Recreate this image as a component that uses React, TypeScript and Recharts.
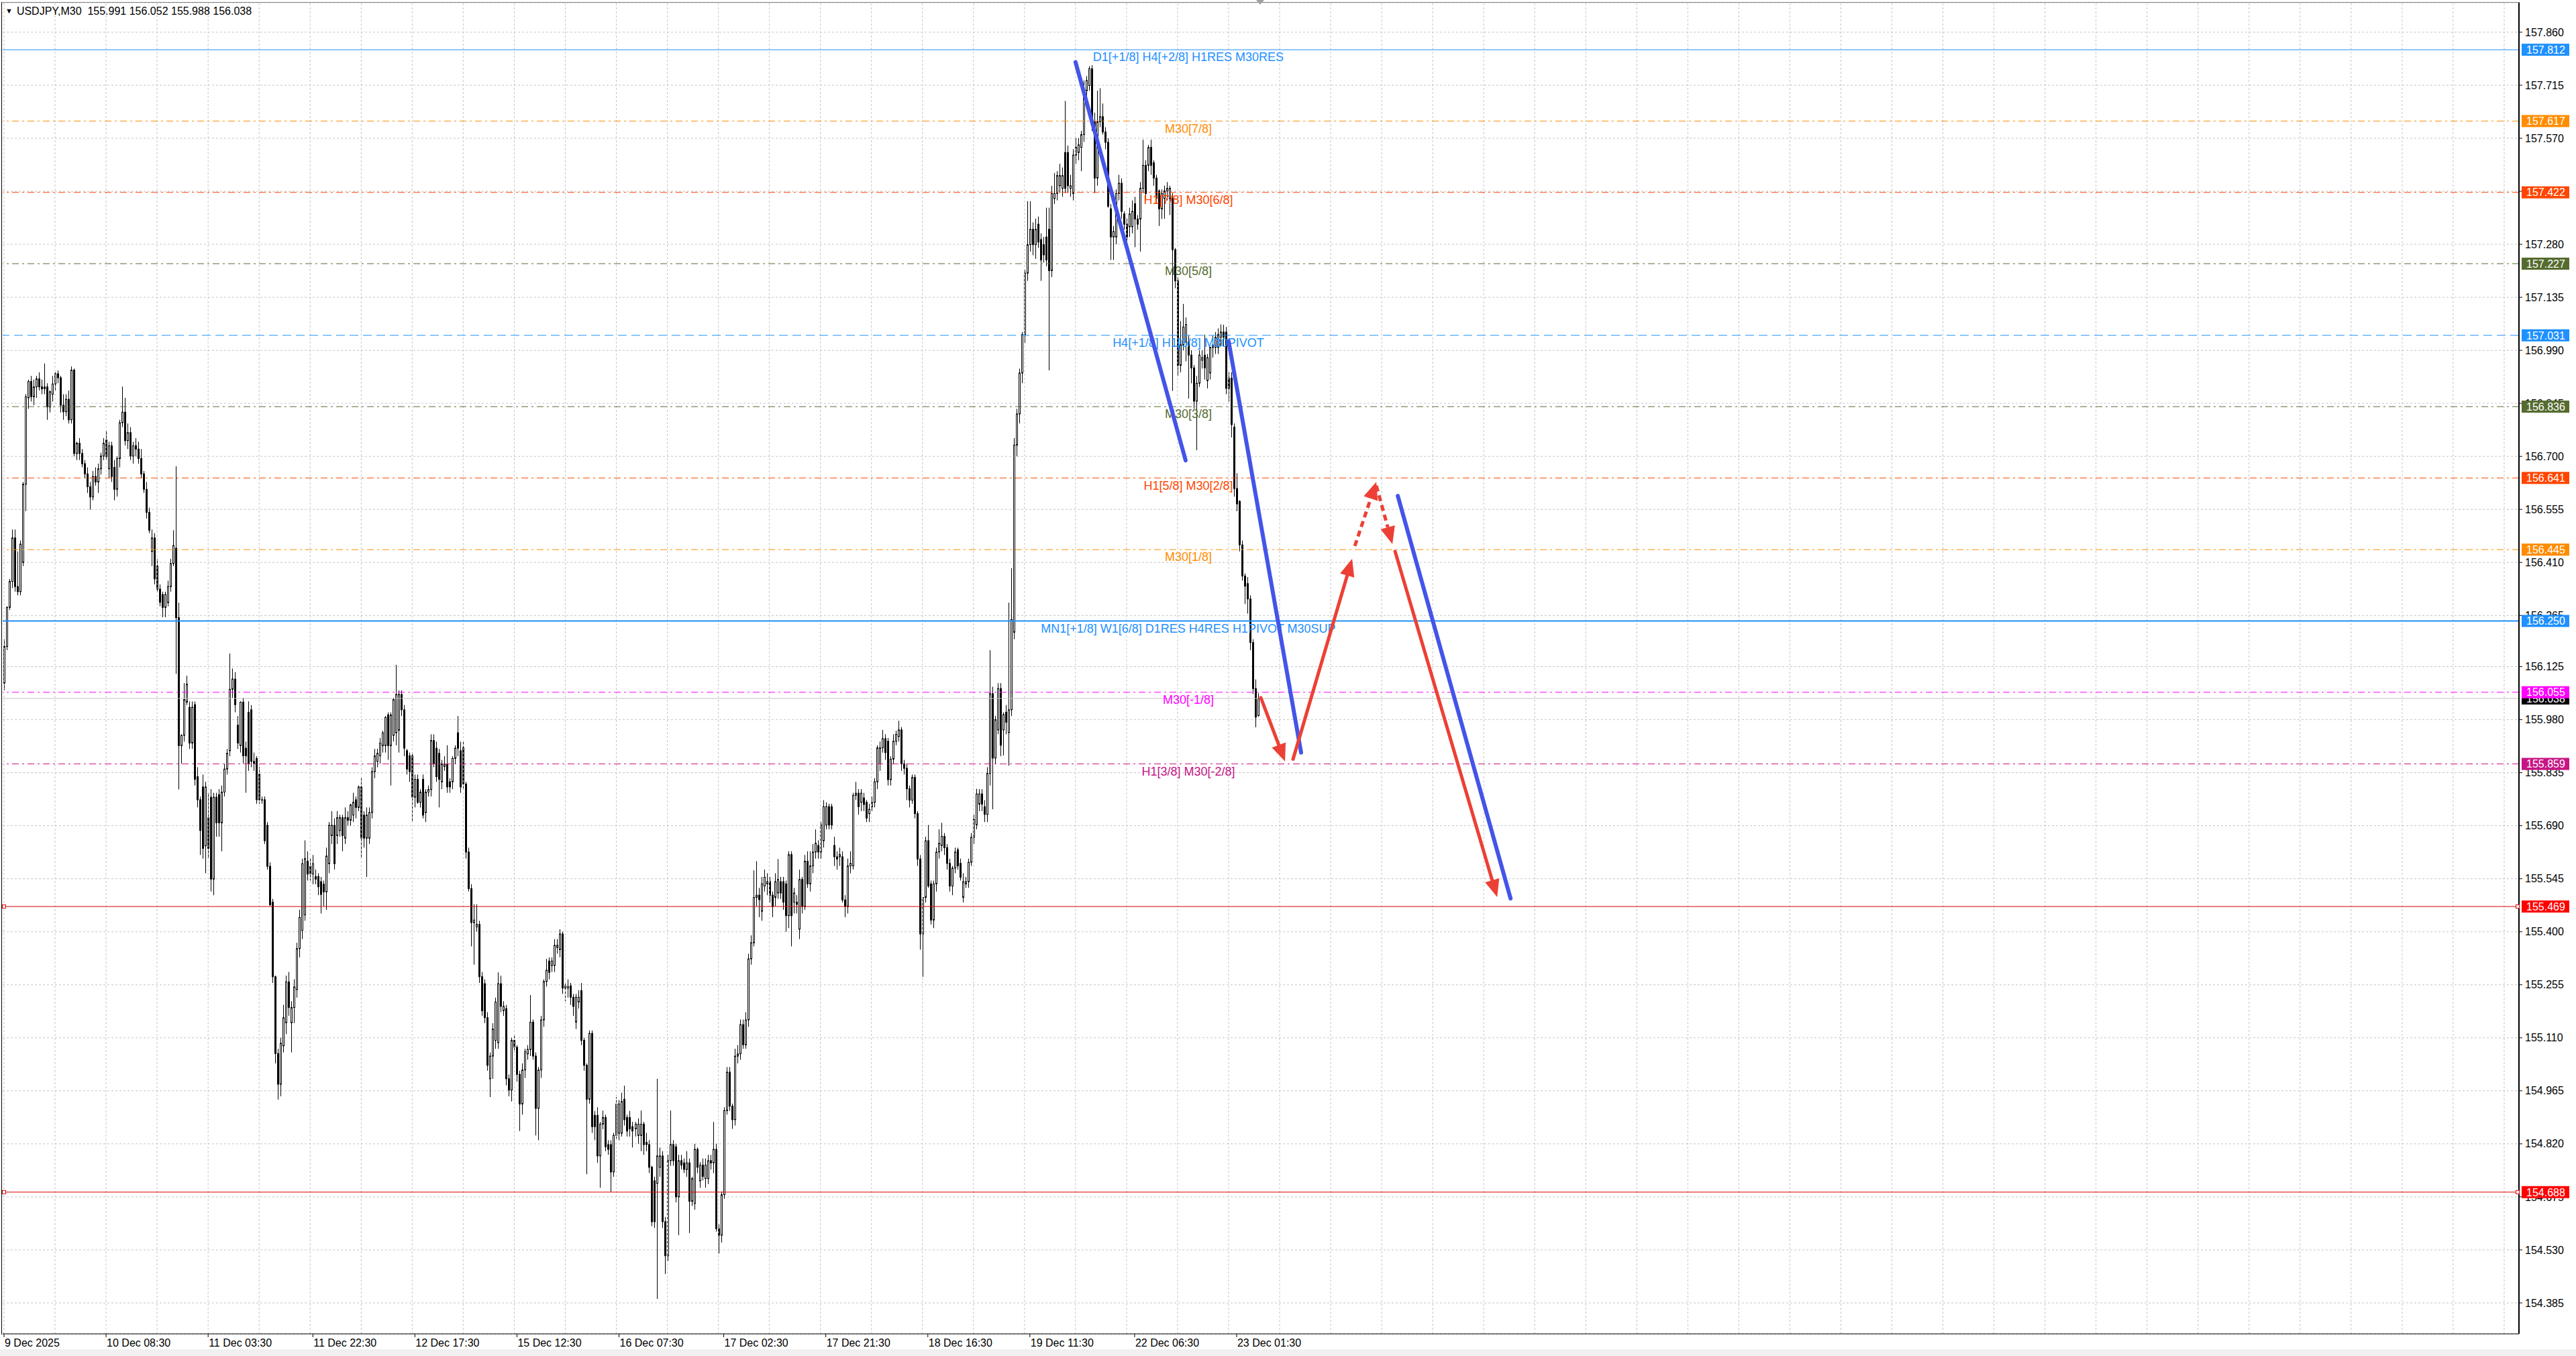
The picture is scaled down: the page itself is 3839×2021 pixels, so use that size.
import React from 'react';
import { ComposedChart, Bar, XAxis, YAxis, CartesianGrid, ReferenceLine, ReferenceDot } from 'recharts';

const W = 3839;
const H = 2021;
const FONT = '"Liberation Sans", Arial, sans-serif';

// ---------- candle data (USDJPY M30) ----------
const OPEN = [
  156.08,156.18,156.287,156.358,156.477,156.344,156.33,156.41,156.624,156.86,
  156.905,156.863,156.89,156.912,156.89,156.885,156.89,156.835,156.87,156.898,
  156.926,156.915,156.84,156.822,156.856,156.8,156.936,156.708,156.736,156.708,
  156.68,156.652,156.617,156.589,156.645,156.63,156.666,156.701,156.745,156.666,
  156.729,156.67,156.61,156.694,156.792,156.821,156.743,156.765,156.701,156.729,
  156.72,156.694,156.652,156.61,156.547,156.44,156.477,156.4,156.337,156.322,
  156.287,156.3,156.344,156.407,156.449,156.259,155.909,155.937,156.028,156.014,
  155.916,156.021,155.824,155.761,155.796,155.635,155.712,155.768,155.544,155.768,
  155.775,155.698,155.782,155.845,155.895,156.063,156.091,155.965,155.909,156.028,
  155.902,156.0,156.007,155.866,155.874,155.831,155.761,155.761,155.691,155.579,
  155.481,155.277,155.067,154.983,155.088,155.151,155.263,155.151,155.193,155.242,
  155.354,155.404,155.446,155.593,155.579,155.558,155.551,155.551,155.537,155.53,
  155.509,155.586,155.663,155.691,155.663,155.677,155.712,155.656,155.712,155.705,
  155.719,155.761,155.74,155.796,155.719,155.656,155.656,155.726,155.838,155.866,
  155.881,155.909,155.909,155.993,155.909,155.937,155.944,155.951,156.049,156.007,
  155.895,155.881,155.881,155.768,155.817,155.754,155.817,155.726,155.782,155.789,
  155.923,155.902,155.888,155.81,155.852,155.859,155.81,155.81,155.874,155.944,
  155.895,155.903,155.804,155.618,155.518,155.425,155.413,155.42,155.277,155.258,
  155.165,154.998,155.06,155.103,155.097,155.258,155.184,155.19,154.998,154.967,
  155.103,155.084,155.01,154.929,155.022,155.066,155.078,155.153,155.06,154.917,
  155.022,155.159,155.264,155.32,155.308,155.308,155.357,155.351,155.394,155.252,
  155.246,155.252,155.221,155.153,155.208,155.239,155.103,155.035,154.942,155.122,
  154.898,154.898,154.787,154.874,154.892,154.818,154.818,154.743,154.843,154.849,
  154.849,154.942,154.892,154.892,154.867,154.861,154.843,154.843,154.874,154.824,
  154.818,154.756,154.719,154.712,154.756,154.787,154.607,154.514,154.774,154.818,
  154.812,154.675,154.774,154.768,154.75,154.768,154.663,154.657,154.805,154.719,
  154.762,154.725,154.725,154.774,154.768,154.805,154.588,154.57,154.681,154.911,
  155.016,154.923,154.886,155.06,155.066,155.146,155.091,155.159,155.326,155.37,
  155.494,155.5,155.456,155.525,155.531,155.537,155.5,155.494,155.506,155.537,
  155.537,155.531,155.444,155.611,155.481,155.481,155.407,155.543,155.469,155.593,
  155.531,155.58,155.618,155.636,155.618,155.649,155.692,155.742,155.742,155.636,
  155.605,155.605,155.605,155.487,155.469,155.58,155.58,155.773,155.779,155.754,
  155.766,155.754,155.723,155.742,155.754,155.81,155.859,155.903,155.928,155.921,
  155.816,155.872,155.921,155.934,155.952,155.859,155.847,155.791,155.76,155.822,
  155.723,155.599,155.394,155.494,155.649,155.531,155.432,155.531,155.618,155.636,
  155.661,155.63,155.587,155.525,155.574,155.624,155.587,155.494,155.531,155.537,
  155.59,155.658,155.693,155.749,155.777,155.742,155.721,155.833,156.051,155.875,
  155.952,156.065,155.952,156.0,155.945,156.007,156.219,156.731,156.816,156.928,
  157.033,157.201,157.279,157.321,157.279,157.335,157.293,157.279,157.3,157.321,
  157.208,157.405,157.419,157.44,157.433,157.531,157.531,157.433,157.419,157.524,
  157.531,157.545,157.58,157.7,157.714,157.76,157.615,157.461,157.615,157.629,
  157.587,157.559,157.377,157.3,157.3,157.419,157.447,157.363,157.335,157.328,
  157.328,157.391,157.349,157.349,157.433,157.496,157.496,157.545,157.503,157.461,
  157.426,157.377,157.405,157.426,157.405,157.405,157.265,157.18,156.949,157.005,
  157.012,157.012,156.977,156.942,156.851,156.9,156.963,156.977,156.907,156.928,
  156.998,156.998,156.998,157.026,157.04,157.04,156.914,156.914,156.78,156.612,
  156.577,156.458,156.373,156.352,156.31,156.191,156.065,155.991
];
const HIGH = [
  156.2,156.29,156.365,156.5,156.5,156.44,156.47,156.63,156.87,156.91,
  156.92,156.91,156.92,156.93,156.91,156.954,156.9,156.88,156.92,156.93,
  156.935,156.92,156.87,156.87,156.88,156.946,156.94,156.74,156.75,156.72,
  156.69,156.67,156.63,156.66,156.67,156.68,156.71,156.75,156.77,156.74,
  156.74,156.69,156.7,156.8,156.891,156.86,156.79,156.78,156.74,156.75,
  156.74,156.72,156.66,156.63,156.56,156.5,156.49,156.42,156.35,156.33,
  156.33,156.36,156.42,156.498,156.673,156.3,155.94,156.08,156.1,156.03,
  156.03,156.03,155.85,155.77,155.83,155.81,155.78,155.79,155.78,155.78,
  155.79,155.8,155.86,155.9,156.161,156.12,156.11,155.99,156.03,156.04,
  155.92,156.03,156.02,155.89,155.88,155.85,155.77,155.77,155.7,155.59,
  155.49,155.28,155.08,155.11,155.2,155.28,155.29,155.21,155.27,155.37,
  155.46,155.6,155.65,155.62,155.6,155.61,155.57,155.56,155.55,155.54,
  155.63,155.7,155.73,155.71,155.73,155.72,155.72,155.74,155.73,155.75,
  155.78,155.77,155.8,155.82,155.73,155.74,155.74,155.85,155.9,155.9,
  155.93,155.95,155.99,156.0,156.0,156.04,156.13,156.06,156.06,156.02,
  155.9,155.89,155.89,155.83,155.83,155.79,155.83,155.79,155.8,155.94,
  155.94,155.92,155.9,155.87,155.88,155.91,155.82,155.88,155.91,155.99,
  155.92,155.92,155.81,155.63,155.53,155.475,155.475,155.43,155.29,155.27,
  155.18,155.07,155.15,155.22,155.289,155.28,155.21,155.2,155.01,155.11,
  155.12,155.09,155.02,155.04,155.08,155.09,155.227,155.16,155.07,155.03,
  155.17,155.27,155.326,155.33,155.33,155.38,155.38,155.407,155.4,155.26,
  155.27,155.26,155.23,155.23,155.24,155.26,155.11,155.04,155.13,155.13,
  154.91,154.92,154.88,154.911,154.9,154.83,154.83,154.85,154.948,154.94,
  154.96,154.979,154.9,154.91,154.88,154.88,154.89,154.911,154.88,154.85,
  154.83,154.76,154.73,154.998,154.81,154.8,154.62,154.79,154.911,154.83,
  154.82,154.79,154.79,154.78,154.8,154.78,154.73,154.82,154.81,154.77,
  154.78,154.78,154.79,154.79,154.88,154.82,154.6,154.69,154.92,155.03,
  155.03,154.93,155.08,155.09,155.16,155.16,155.18,155.34,155.39,155.568,
  155.593,155.52,155.55,155.57,155.56,155.55,155.51,155.56,155.599,155.55,
  155.55,155.54,155.62,155.62,155.52,155.5,155.57,155.55,155.61,155.62,
  155.62,155.64,155.68,155.65,155.7,155.76,155.754,155.75,155.75,155.66,
  155.62,155.63,155.62,155.5,155.6,155.62,155.78,155.81,155.79,155.79,
  155.78,155.76,155.75,155.77,155.82,155.91,155.92,155.952,155.94,155.93,
  155.88,155.94,155.95,155.977,155.96,155.87,155.86,155.8,155.83,155.83,
  155.73,155.61,155.47,155.66,155.692,155.54,155.54,155.63,155.68,155.698,
  155.67,155.64,155.6,155.58,155.63,155.63,155.6,155.56,155.55,155.6,
  155.67,155.72,155.791,155.79,155.79,155.76,155.85,156.17,156.07,155.99,
  156.08,156.08,156.0,156.02,156.3,156.394,156.75,156.83,156.94,157.04,
  157.21,157.398,157.398,157.34,157.35,157.356,157.31,157.3,157.38,157.38,
  157.44,157.475,157.48,157.5,157.49,157.672,157.55,157.47,157.54,157.57,
  157.57,157.59,157.728,157.74,157.767,157.77,157.64,157.7,157.707,157.665,
  157.6,157.57,157.39,157.33,157.43,157.47,157.46,157.37,157.35,157.38,
  157.4,157.41,157.36,157.45,157.566,157.51,157.552,157.566,157.51,157.47,
  157.43,157.43,157.44,157.45,157.44,157.42,157.27,157.19,157.07,157.117,
  157.08,157.03,156.99,156.95,156.92,156.99,156.99,157.033,156.98,157.0,
  157.03,157.04,157.05,157.061,157.06,157.054,156.93,156.93,156.79,156.654,
  156.58,156.47,156.38,156.37,156.32,156.2,156.09,156.052
];
const LOW = [
  156.06,156.17,156.28,156.34,156.33,156.32,156.32,156.4,156.55,156.83,
  156.85,156.84,156.86,156.88,156.87,156.87,156.8,156.82,156.85,156.88,
  156.9,156.82,156.8,156.81,156.79,156.79,156.7,156.69,156.69,156.67,
  156.64,156.6,156.554,156.58,156.62,156.6,156.65,156.69,156.69,156.64,
  156.63,156.58,156.59,156.67,156.78,156.73,156.72,156.69,156.68,156.7,
  156.68,156.64,156.6,156.53,156.49,156.4,156.35,156.33,156.29,156.26,
  156.26,156.29,156.33,156.4,156.105,155.789,155.86,155.92,156.02,155.9,
  155.9,155.8,155.74,155.61,155.6,155.56,155.6,155.51,155.5,155.66,
  155.66,155.62,155.77,155.83,155.88,156.04,156.0,155.9,155.89,155.86,
  155.78,155.84,155.85,155.84,155.75,155.75,155.75,155.64,155.57,155.47,
  155.26,155.04,154.941,154.95,155.07,155.12,155.17,155.07,155.15,155.22,
  155.33,155.38,155.43,155.54,155.54,155.53,155.53,155.5,155.45,155.47,
  155.46,155.56,155.64,155.57,155.64,155.66,155.62,155.64,155.69,155.69,
  155.7,155.71,155.73,155.6,155.63,155.55,155.64,155.71,155.82,155.85,
  155.86,155.89,155.89,155.87,155.8,155.92,155.91,155.89,155.99,155.88,
  155.83,155.81,155.7,155.74,155.75,155.74,155.71,155.7,155.77,155.77,
  155.85,155.81,155.74,155.79,155.84,155.78,155.78,155.79,155.86,155.88,
  155.78,155.79,155.6,155.51,155.36,155.31,155.4,155.26,155.17,155.15,
  155.02,154.948,154.998,155.08,155.08,155.18,155.17,154.98,154.95,154.936,
  155.07,154.99,154.855,154.9,155.0,155.05,155.06,155.05,154.843,154.83,
  155.0,155.14,155.25,155.27,155.29,155.29,155.34,155.33,155.23,155.21,
  155.22,155.2,155.17,155.134,155.19,155.09,155.02,154.737,154.93,154.85,
  154.83,154.768,154.7,154.86,154.8,154.79,154.688,154.73,154.83,154.83,
  154.84,154.87,154.84,154.84,154.81,154.84,154.82,154.8,154.79,154.8,
  154.74,154.595,154.59,154.396,154.73,154.59,154.464,154.5,154.76,154.76,
  154.66,154.57,154.75,154.74,154.73,154.576,154.65,154.64,154.74,154.7,
  154.72,154.7,154.71,154.75,154.74,154.58,154.52,154.55,154.67,154.9,
  154.91,154.861,154.87,155.04,155.05,155.08,155.08,155.14,155.31,155.36,
  155.47,155.44,155.43,155.51,155.5,155.48,155.44,155.47,155.49,155.49,
  155.46,155.4,155.41,155.36,155.45,155.45,155.38,155.45,155.46,155.52,
  155.51,155.56,155.6,155.6,155.6,155.63,155.68,155.68,155.68,155.58,
  155.57,155.58,155.48,155.44,155.45,155.56,155.57,155.76,155.72,155.73,
  155.73,155.7,155.7,155.73,155.74,155.79,155.84,155.89,155.87,155.8,
  155.8,155.86,155.91,155.92,155.84,155.83,155.76,155.74,155.75,155.71,
  155.58,155.351,155.277,155.48,155.52,155.42,155.41,155.51,155.6,155.62,
  155.61,155.57,155.51,155.5,155.56,155.57,155.54,155.48,155.52,155.52,
  155.58,155.64,155.68,155.73,155.73,155.7,155.7,155.8,155.735,155.86,
  155.94,155.88,155.882,155.94,155.854,155.99,156.2,156.7,156.79,156.9,
  157.01,157.18,157.26,157.25,157.24,157.27,157.18,157.23,157.22,156.935,
  157.19,157.39,157.4,157.42,157.41,157.42,157.42,157.41,157.4,157.5,
  157.51,157.48,157.56,157.68,157.7,157.59,157.42,157.44,157.6,157.58,
  157.54,157.38,157.237,157.237,157.28,157.4,157.35,157.32,157.29,157.3,
  157.31,157.272,157.32,157.26,157.42,157.4,157.48,157.47,157.44,157.39,
  157.33,157.349,157.35,157.4,157.36,156.879,157.16,156.92,156.93,156.99,
  156.96,156.858,156.9,156.83,156.717,156.89,156.94,156.91,156.886,156.91,
  156.97,156.98,156.98,157.0,157.0,156.87,156.85,156.752,156.59,156.55,
  156.44,156.36,156.296,156.27,156.17,156.05,155.959,155.988
];
const CLOSE = [
  156.18,156.287,156.358,156.477,156.344,156.33,156.46,156.624,156.863,156.905,
  156.863,156.89,156.912,156.89,156.885,156.89,156.835,156.877,156.898,156.926,
  156.915,156.84,156.822,156.856,156.8,156.936,156.708,156.736,156.708,156.68,
  156.652,156.617,156.589,156.645,156.63,156.666,156.701,156.736,156.7,156.729,
  156.645,156.61,156.694,156.792,156.821,156.743,156.765,156.701,156.729,156.72,
  156.694,156.652,156.61,156.547,156.498,156.477,156.365,156.337,156.301,156.287,
  156.322,156.344,156.407,156.456,156.259,155.909,155.937,156.035,156.077,155.916,
  156.014,155.817,155.761,155.677,155.628,155.796,155.628,155.544,155.768,155.698,
  155.698,155.782,155.845,155.888,156.063,156.091,156.021,155.916,156.028,155.881,
  155.881,155.859,155.866,155.86,155.761,155.761,155.76,155.649,155.579,155.474,
  155.277,155.067,154.983,155.095,155.165,155.263,155.193,155.193,155.249,155.354,
  155.439,155.586,155.6,155.558,155.558,155.586,155.544,155.523,155.502,155.509,
  155.607,155.691,155.691,155.586,155.712,155.712,155.663,155.712,155.705,155.747,
  155.754,155.74,155.796,155.656,155.656,155.719,155.726,155.838,155.881,155.888,
  155.916,155.944,155.986,155.909,155.993,156.035,156.049,156.049,156.007,155.902,
  155.845,155.838,155.768,155.817,155.754,155.782,155.719,155.782,155.789,155.923,
  155.859,155.824,155.817,155.859,155.859,155.796,155.796,155.874,155.902,155.902,
  155.796,155.804,155.618,155.518,155.425,155.432,155.42,155.277,155.184,155.165,
  155.035,155.06,155.134,155.208,155.258,155.196,155.196,154.998,154.967,155.103,
  155.084,155.01,154.929,155.022,155.072,155.078,155.153,155.06,154.917,155.022,
  155.159,155.264,155.295,155.289,155.32,155.363,155.363,155.394,155.246,155.246,
  155.25,155.221,155.196,155.221,155.221,155.103,155.035,154.942,155.122,154.867,
  154.867,154.787,154.874,154.892,154.812,154.805,154.743,154.843,154.929,154.929,
  154.936,154.886,154.855,154.861,154.855,154.874,154.874,154.874,154.818,154.818,
  154.756,154.607,154.607,154.787,154.787,154.607,154.514,154.774,154.818,154.774,
  154.675,154.774,154.762,154.75,154.768,154.663,154.725,154.805,154.756,154.762,
  154.731,154.762,154.774,154.768,154.805,154.588,154.57,154.681,154.911,155.016,
  154.923,154.886,155.06,155.066,155.146,155.091,155.159,155.326,155.37,155.494,
  155.5,155.488,155.531,155.549,155.537,155.5,155.469,155.537,155.543,155.506,
  155.481,155.444,155.611,155.444,155.506,155.475,155.543,155.469,155.593,155.531,
  155.58,155.618,155.642,155.618,155.692,155.742,155.742,155.692,155.692,155.605,
  155.599,155.611,155.487,155.469,155.58,155.587,155.773,155.779,155.742,155.779,
  155.748,155.711,155.735,155.754,155.81,155.903,155.903,155.928,155.89,155.816,
  155.872,155.921,155.94,155.952,155.859,155.847,155.791,155.76,155.822,155.723,
  155.599,155.394,155.494,155.649,155.525,155.432,155.531,155.618,155.642,155.661,
  155.63,155.587,155.525,155.574,155.618,155.58,155.549,155.537,155.537,155.59,
  155.658,155.707,155.777,155.777,155.749,155.721,155.833,156.051,155.875,155.98,
  156.065,155.91,155.994,155.973,156.007,156.254,156.731,156.816,156.928,157.033,
  157.201,157.279,157.321,157.279,157.321,157.286,157.237,157.251,157.237,157.208,
  157.419,157.419,157.468,157.468,157.468,157.433,157.44,157.44,157.524,157.545,
  157.552,157.58,157.7,157.728,157.76,157.615,157.461,157.615,157.629,157.587,
  157.559,157.384,157.3,157.315,157.419,157.447,157.37,157.335,157.3,157.363,
  157.37,157.349,157.335,157.433,157.496,157.419,157.545,157.496,157.461,157.405,
  157.377,157.419,157.426,157.433,157.433,157.265,157.18,156.949,157.005,157.054,
  157.061,156.977,156.942,156.851,156.9,156.977,156.97,156.942,156.97,156.998,
  157.005,157.026,157.033,157.04,157.026,156.886,156.886,156.787,156.612,156.57,
  156.458,156.373,156.345,156.31,156.191,156.065,155.987,156.038
];

const SLOT_COUNT = 937; // bar slots across the plot, incl. empty future space

// ---------- axes ----------
const X_TICK_BARS = [0, 38, 76, 115, 153, 191, 229, 268, 306, 344, 382, 421, 459];
const X_TICK_LABELS = [
  '9 Dec 2025', '10 Dec 08:30', '11 Dec 03:30', '11 Dec 22:30', '12 Dec 17:30',
  '15 Dec 12:30', '16 Dec 07:30', '17 Dec 02:30', '17 Dec 21:30', '18 Dec 16:30',
  '19 Dec 11:30', '22 Dec 06:30', '23 Dec 01:30'
];
const GRID_STEP_BARS = 19;
const Y_TICKS = [
  157.860, 157.715, 157.570, 157.425, 157.280, 157.135, 156.990, 156.845, 156.700,
  156.555, 156.410, 156.265, 156.125, 155.980, 155.835, 155.690, 155.545, 155.400,
  155.255, 155.110, 154.965, 154.820, 154.675, 154.530, 154.385
];
const Y_MIN = 154.3004;
const Y_MAX = 157.9407;

// ---------- levels ----------
const LEVEL_PRICES = [157.812, 157.617, 157.422, 157.227, 157.031, 156.836, 156.641, 156.445, 156.250, 156.055, 155.859];
const LEVEL_TEXTS = [
  'D1[+1/8] H4[+2/8] H1RES M30RES', 'M30[7/8]', 'H1[7/8] M30[6/8]', 'M30[5/8]',
  'H4[+1/8] H1[6/8] M30PIVOT', 'M30[3/8]', 'H1[5/8] M30[2/8]', 'M30[1/8]',
  'MN1[+1/8] W1[6/8] D1RES H4RES H1PIVOT M30SUP', 'M30[-1/8]', 'H1[3/8] M30[-2/8]'
];
const LEVEL_COLORS = ['#1E90FF', '#FF8C00', '#FF4500', '#556B2F', '#1E90FF', '#556B2F', '#FF4500', '#FF8C00', '#1E90FF', '#FF00FF', '#C71585'];
const LEVEL_STYLES = ['solid', 'dashdot', 'dashdot', 'dashdot', 'dash', 'dashdot', 'dashdot', 'dashdot', 'solid2', 'dashdot', 'dashdot'];
const LEVEL_TEXT_BAR = 441;
const RED_LEVELS = [155.469, 154.688];
const BID = 156.038;

// price boxes on the right scale, drawn in this order (later on top)
const BOX_PRICES = [BID, ...LEVEL_PRICES, ...RED_LEVELS];
const BOX_COLORS = ['#000000', ...LEVEL_COLORS, '#FF0000', '#FF0000'];

// ---------- drawings (bar index, price) ----------
const BLUE_LINES = [
  [[399, 157.778], [440, 156.689]],
  [[456, 157.015], [483, 155.890]],
  [[519, 156.592], [561, 155.491]]
];
const RED_ARROWS = [
  { from: [468, 156.040], to: [477, 155.866], dashed: false },
  { from: [480, 155.872], to: [502, 156.420], dashed: false },
  { from: [503, 156.455], to: [511, 156.630], dashed: true },
  { from: [511, 156.620], to: [517, 156.460], dashed: true },
  { from: [518, 156.440], to: [556, 155.495], dashed: false }
];

const data = Array.from({ length: SLOT_COUNT }, (_, i) =>
  i < CLOSE.length
    ? { i, range: [LOW[i], HIGH[i]], o: OPEN[i], h: HIGH[i], l: LOW[i], c: CLOSE[i] }
    : { i, range: null, o: null, h: null, l: null, c: null }
);

const Candle = (props: any) => {
  const { x, y, width, height, payload } = props;
  if (!payload || payload.h == null || x == null || y == null) return null;
  const n = Math.floor(x + width / 2);
  const cx = n + 0.5;
  const span = payload.h - payload.l;
  const pos = (v: number) => (span > 0 ? y + ((payload.h - v) / span) * height : y);
  const yo = pos(payload.o);
  const yc = pos(payload.c);
  const top = Math.min(yo, yc);
  const bot = Math.max(yo, yc);
  const up = payload.c >= payload.o;
  return (
    <g>
      <line x1={cx} x2={cx} y1={y} y2={y + Math.max(height, 1)} stroke="#000" strokeWidth={1} />
      <rect x={n - 0.5} y={top} width={2} height={Math.max(bot - top, 0.5)} fill={up ? '#fff' : '#000'} stroke="#000" strokeWidth={1} />
    </g>
  );
};

const XTick = (props: any) => {
  const { x, y, payload } = props;
  const idx = X_TICK_BARS.indexOf(payload.value);
  if (idx < 0) return null;
  return (
    <text x={x + 1} y={y + 12} fontSize={16} fontFamily={FONT} fill="#000" textAnchor="start">
      {X_TICK_LABELS[idx]}
    </text>
  );
};

// tick renderer of the thin outer price-box axis: draws each coloured box back
// over the right price scale, starting just right of the plot border
const BoxTick = (props: any) => {
  const { x, y, payload } = props;
  const k = BOX_PRICES.indexOf(payload.value);
  const color = BOX_COLORS[k] || '#000';
  const left = x - 80;
  return (
    <g>
      <rect x={left} y={y - 9} width={71} height={18} fill={color} />
      <text x={left + 7} y={y} dy="0.36em" fill="#fff" fontSize={16} fontFamily={FONT}>
        {Number(payload.value).toFixed(3)}
      </text>
    </g>
  );
};

const dashFor = (s: string) => (s === 'dashdot' ? '10 5 3 5' : s === 'dash' ? '13 7' : undefined);

const levelText = (text: string, color: string) => (props: any) => (
  <text x={props.cx} y={props.cy + 11} dy="0.35em" textAnchor="middle" fill={color} fontSize={18} fontFamily={FONT}>
    {text}
  </text>
);

const squareMark = (color: string) => (props: any) => (
  <rect x={props.cx - 2.5} y={props.cy - 2.5} width={5} height={5} fill="#fff" stroke={color} strokeWidth={1} />
);

const makeSeg = (color: string, width: number, dashed: boolean, arrow: boolean) => (p: any) => {
  const { x1, y1, x2, y2 } = p;
  if ([x1, y1, x2, y2].some((v) => v == null || isNaN(v))) return null;
  const dx = x2 - x1;
  const dy = y2 - y1;
  const len = Math.hypot(dx, dy) || 1;
  const ux = dx / len;
  const uy = dy / len;
  const headL = 26;
  const headW = 11;
  const bx = arrow ? x2 - ux * headL : x2;
  const by = arrow ? y2 - uy * headL : y2;
  return (
    <g>
      <line x1={x1} y1={y1} x2={bx} y2={by} stroke={color} strokeWidth={width} strokeLinecap={dashed ? 'butt' : 'round'} strokeDasharray={dashed ? '9 6' : undefined} />
      {arrow && (
        <polygon
          points={`${x2},${y2} ${bx - uy * headW},${by + ux * headW} ${bx + uy * headW},${by - ux * headW}`}
          fill={color}
        />
      )}
    </g>
  );
};

const gridBars: number[] = [];
for (let b = 0; b < SLOT_COUNT; b += GRID_STEP_BARS) gridBars.push(b);

export default function App() {
  return (
    <div style={{ position: 'absolute', left: 0, top: 0, width: W, height: H, background: '#fff', overflow: 'hidden' }}>
      <ComposedChart width={W} height={H} data={data} margin={{ top: 4, right: 0, bottom: 0, left: 4 }} barCategoryGap={0}>
        <CartesianGrid yAxisId="a" horizontal vertical={false} stroke="#C4C4C4" strokeDasharray="3 3" />
        <XAxis
          dataKey="i"
          type="category"
          ticks={X_TICK_BARS}
          interval={0}
          tick={<XTick />}
          tickSize={5}
          tickLine={{ stroke: '#000' }}
          axisLine={{ stroke: '#000', strokeWidth: 1 }}
          height={33}
        />
        <YAxis
          yAxisId="a"
          orientation="right"
          type="number"
          domain={[Y_MIN, Y_MAX]}
          ticks={Y_TICKS}
          interval={0}
          allowDataOverflow
          width={84}
          tickFormatter={(v: number) => v.toFixed(3)}
          tick={{ fill: '#000', fontSize: 16, fontFamily: FONT }}
          tickSize={5}
          tickMargin={4}
          tickLine={{ stroke: '#000' }}
          axisLine={{ stroke: '#000', strokeWidth: 2 }}
        />
        <YAxis
          yAxisId="z"
          orientation="right"
          type="number"
          domain={[Y_MIN, Y_MAX]}
          ticks={BOX_PRICES}
          interval={0}
          allowDataOverflow
          width={1}
          tick={<BoxTick />}
          tickSize={0}
          tickMargin={0}
          tickLine={false}
          axisLine={false}
        />
        {gridBars.map((b) => (
          <ReferenceLine key={'g' + b} yAxisId="a" x={b} stroke="#C4C4C4" strokeDasharray="3 3" />
        ))}
        <ReferenceLine yAxisId="a" y={BID} stroke="#C0C0C0" strokeWidth={1} />
        {LEVEL_PRICES.map((p, k) => (
          <ReferenceLine
            key={'lv' + k}
            yAxisId="a"
            y={p}
            stroke={LEVEL_COLORS[k]}
            strokeWidth={LEVEL_STYLES[k] === 'solid2' ? 2 : 1}
            strokeDasharray={dashFor(LEVEL_STYLES[k])}
          />
        ))}
        {RED_LEVELS.map((p, k) => (
          <ReferenceLine key={'rl' + k} yAxisId="a" y={p} stroke="#D80000" strokeWidth={1} />
        ))}
        {RED_LEVELS.map((p, k) => (
          <ReferenceDot key={'rdl' + k} yAxisId="a" x={0} y={p} r={3} shape={squareMark('#D80000')} />
        ))}
        {RED_LEVELS.map((p, k) => (
          <ReferenceDot key={'rdr' + k} yAxisId="a" x={SLOT_COUNT - 1} y={p} r={3} shape={squareMark('#D80000')} />
        ))}
        {LEVEL_PRICES.map((p, k) => (
          <ReferenceDot key={'lt' + k} yAxisId="a" x={LEVEL_TEXT_BAR} y={p} r={1} shape={levelText(LEVEL_TEXTS[k], LEVEL_COLORS[k])} />
        ))}
        <Bar yAxisId="a" dataKey="range" shape={<Candle />} isAnimationActive={false} barSize={3} />
        {BLUE_LINES.map((s, k) => (
          <ReferenceLine
            key={'bl' + k}
            yAxisId="a"
            segment={[{ x: s[0][0], y: s[0][1] }, { x: s[1][0], y: s[1][1] }]}
            shape={makeSeg('#4454E8', 6, false, false)}
            zIndex={1000}
          />
        ))}
        {RED_ARROWS.map((a, k) => (
          <ReferenceLine
            key={'ra' + k}
            yAxisId="a"
            segment={[{ x: a.from[0], y: a.from[1] }, { x: a.to[0], y: a.to[1] }]}
            shape={makeSeg('#EC4036', 5, a.dashed, true)}
            zIndex={1000}
          />
        ))}
      </ComposedChart>
      <div style={{ position: 'absolute', left: 2, top: 3, width: 3752, height: 1985, borderLeft: '1px solid #000', borderTop: '1px solid #808080', pointerEvents: 'none' }} />
      <div style={{ position: 'absolute', left: 0, top: 2011, width: W, height: 10, background: '#F0F0F0' }} />
      <div style={{ position: 'absolute', left: 1872, top: 0, width: 0, height: 0, borderLeft: '6px solid transparent', borderRight: '6px solid transparent', borderTop: '7px solid #A0A0A0' }} />
      <div style={{ position: 'absolute', left: 8, top: 7, fontFamily: FONT, fontSize: 16, color: '#000', whiteSpace: 'pre', lineHeight: '20px' }}>
        <span style={{ fontSize: 11, marginRight: 6, position: 'relative', top: -2 }}>▼</span>
        {'USDJPY,M30  155.991 156.052 155.988 156.038'}
      </div>
    </div>
  );
}
